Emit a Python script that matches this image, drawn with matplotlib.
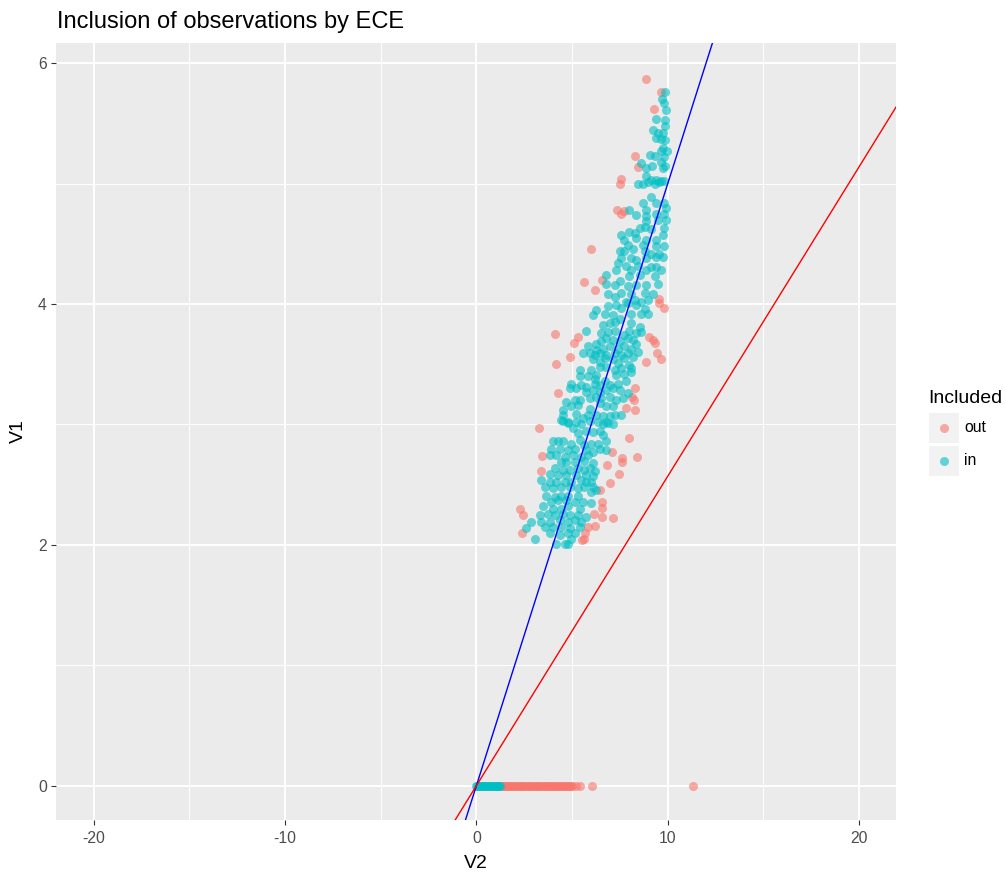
import numpy as np
import matplotlib.pyplot as plt
from matplotlib.patches import Rectangle
from matplotlib.lines import Line2D

plt.rcParams['font.family'] = ['Liberation Sans', 'DejaVu Sans']
plt.rcParams['axes.unicode_minus'] = False

# observations left out of the ECE fit, (V2, V1)
out_pts = [
    (8.88, 5.87), (9.66, 5.76), (9.28, 5.62), (8.28, 5.23), (8.44, 5.14), (7.57, 5.04),
    (7.48, 5.00), (7.34, 4.78), (7.57, 4.75), (7.74, 4.77), (5.97, 4.46), (5.62, 4.18),
    (6.56, 4.20), (6.21, 4.12), (9.52, 4.04), (9.52, 4.01), (9.78, 3.97), (4.09, 3.75),
    (5.31, 3.73), (5.10, 3.68), (9.01, 3.73), (9.22, 3.70), (9.36, 3.68), (4.89, 3.56),
    (9.45, 3.59), (9.66, 3.54), (8.88, 3.52), (4.18, 3.50), (8.27, 3.30), (4.26, 3.26),
    (8.14, 3.23), (8.23, 3.20), (7.83, 3.14), (8.27, 3.12), (3.25, 2.97), (8.00, 2.89),
    (3.44, 2.74), (7.08, 2.77), (7.62, 2.72), (7.62, 2.69), (8.41, 2.73), (6.84, 2.66),
    (3.39, 2.61), (7.43, 2.59), (6.99, 2.51), (6.47, 2.46), (6.56, 2.36), (6.56, 2.31),
    (2.30, 2.30), (2.44, 2.25), (6.13, 2.26), (6.56, 2.23), (7.13, 2.22), (6.21, 2.16),
    (5.83, 2.15), (2.38, 2.10), (5.69, 2.10), (5.60, 2.05), (5.52, 2.04),
]

# observations kept in the ECE fit, (V2, V1)
in_pts = [
    (9.87, 5.76), (9.69, 5.70), (9.80, 5.67), (9.90, 5.61), (9.38, 5.54), (9.87, 5.53),
    (9.87, 5.48), (9.24, 5.45), (9.48, 5.42), (9.75, 5.42), (9.40, 5.38), (9.66, 5.37),
    (9.87, 5.36), (9.75, 5.30), (9.97, 5.27), (9.66, 5.27), (9.08, 5.24), (9.31, 5.23),
    (9.83, 5.22), (8.58, 5.17), (8.88, 5.13), (9.17, 5.15), (9.66, 5.18), (9.75, 5.13),
    (9.87, 5.15), (8.88, 5.06), (9.40, 5.03), (9.66, 5.02), (9.14, 5.03), (8.44, 5.00),
    (8.70, 5.00), (8.96, 5.01), (9.31, 5.00), (9.57, 5.01), (9.83, 5.02),
    (9.14, 4.89), (8.70, 4.84), (9.40, 4.84), (9.83, 4.84), (8.88, 4.78), (9.92, 4.80),
    (8.00, 4.78), (8.35, 4.74), (8.88, 4.73), (9.40, 4.75), (9.83, 4.75), (8.88, 4.69),
    (9.92, 4.70), (9.48, 4.70), (8.53, 4.63), (8.79, 4.64), (8.00, 4.60), (8.27, 4.59),
    (9.14, 4.62), (9.83, 4.63), (9.75, 4.57), (7.57, 4.57), (7.74, 4.53), (8.35, 4.55),
    (8.88, 4.53), (9.40, 4.53), (8.70, 4.49), (7.92, 4.49), (8.18, 4.46), (9.40, 4.48),
    (9.83, 4.48), (7.48, 4.44), (7.74, 4.44), (8.79, 4.44), (9.14, 4.42), (9.57, 4.42),
    (9.75, 4.39), (7.57, 4.38), (8.09, 4.38), (8.35, 4.37), (8.88, 4.38), (9.40, 4.39),
    (7.40, 4.34), (7.83, 4.32), (8.44, 4.32), (9.14, 4.31), (9.40, 4.31), (7.31, 4.28),
    (8.09, 4.28), (9.66, 4.28), (8.88, 4.28), (6.79, 4.24), (8.00, 4.23), (8.53, 4.24),
    (9.31, 4.23), (6.79, 4.17), (7.22, 4.16), (7.48, 4.19), (7.92, 4.15), (8.35, 4.16),
    (8.88, 4.16), (9.48, 4.17), (6.87, 4.08), (7.22, 4.06), (7.57, 4.09), (8.09, 4.08),
    (8.79, 4.09), (9.22, 4.08), (7.83, 4.02), (8.27, 4.03), (8.61, 4.02), (8.96, 4.03),
    (6.87, 3.98), (7.31, 3.99), (7.57, 3.97), (7.92, 4.01), (8.35, 3.99), (8.79, 3.96),
    (8.96, 3.92), (8.61, 3.92), (8.09, 3.92), (6.26, 3.95), (6.09, 3.91), (6.70, 3.92),
    (7.14, 3.91), (7.48, 3.88), (6.61, 3.83), (6.96, 3.84), (7.22, 3.85), (8.09, 3.84),
    (8.53, 3.81), (5.74, 3.78), (6.53, 3.76), (6.87, 3.77), (7.22, 3.78), (8.00, 3.78),
    (8.35, 3.76), (8.61, 3.77), (7.74, 3.74), (6.79, 3.72), (7.14, 3.70), (7.48, 3.69),
    (7.92, 3.72), (8.18, 3.70), (8.35, 3.67), (6.26, 3.67), (6.53, 3.69), (5.83, 3.65),
    (6.26, 3.62), (6.61, 3.63), (6.96, 3.65), (7.40, 3.63), (7.74, 3.65), (8.09, 3.63),
    (8.44, 3.60), (5.57, 3.59), (5.92, 3.59), (6.18, 3.58), (6.44, 3.59), (6.79, 3.58),
    (7.22, 3.59), (7.57, 3.58), (7.92, 3.59), (8.18, 3.56), (6.09, 3.54), (6.44, 3.52),
    (6.70, 3.55), (7.14, 3.54), (7.40, 3.51), (7.74, 3.55), (8.00, 3.49), (6.44, 3.48),
    (6.79, 3.48), (7.22, 3.45), (7.57, 3.47), (8.09, 3.47), (5.39, 3.45), (6.00, 3.45),
    (6.26, 3.41), (5.39, 3.40), (5.83, 3.40), (6.18, 3.38), (7.31, 3.41), (7.74, 3.42),
    (8.09, 3.44), (4.96, 3.34), (5.48, 3.33), (5.74, 3.31), (6.18, 3.34), (6.44, 3.33),
    (6.70, 3.36), (6.96, 3.33), (7.40, 3.34), (7.83, 3.36), (4.87, 3.30), (5.22, 3.30),
    (5.74, 3.27), (6.09, 3.29), (6.44, 3.27), (6.79, 3.29), (7.14, 3.30), (7.48, 3.29),
    (7.92, 3.26), (4.70, 3.19), (5.13, 3.20), (5.39, 3.20), (5.92, 3.22), (6.26, 3.23),
    (6.53, 3.22), (6.96, 3.23), (7.31, 3.20), (7.66, 3.22), (4.52, 3.12), (4.96, 3.15),
    (5.31, 3.16), (5.92, 3.13), (6.44, 3.18), (6.79, 3.15), (7.14, 3.15), (4.52, 3.08),
    (4.44, 3.04), (4.78, 3.02), (5.57, 3.05), (5.83, 3.08), (6.26, 3.08), (6.61, 3.07),
    (6.96, 3.07), (7.22, 3.08), (7.57, 3.08), (5.22, 3.09), (5.92, 3.03), (6.79, 3.02),
    (4.52, 3.03), (4.78, 3.01), (5.22, 3.02), (5.48, 3.00), (6.35, 3.02), (6.61, 3.00),
    (6.87, 3.01), (7.14, 3.00), (5.05, 2.97), (5.31, 2.93), (5.74, 2.95), (6.09, 2.94),
    (6.44, 2.95), (6.61, 2.91), (4.00, 2.86), (4.26, 2.86), (4.52, 2.86), (4.96, 2.84),
    (5.39, 2.87), (5.65, 2.83), (6.00, 2.84), (6.35, 2.84), (6.79, 2.86), (3.91, 2.80),
    (4.35, 2.80), (4.78, 2.79), (5.13, 2.80), (5.74, 2.79), (6.09, 2.77), (6.44, 2.80),
    (6.79, 2.79), (3.83, 2.75), (4.18, 2.75), (4.61, 2.73), (5.05, 2.75), (5.48, 2.73),
    (5.83, 2.75), (4.44, 2.69), (4.70, 2.69), (5.13, 2.69), (5.65, 2.70), (6.09, 2.68),
    (4.09, 2.64), (4.52, 2.62), (4.87, 2.62), (5.31, 2.64), (5.65, 2.62), (5.92, 2.64),
    (6.18, 2.61), (3.83, 2.59), (4.26, 2.58), (4.70, 2.58), (5.22, 2.58), (5.74, 2.58),
    (6.09, 2.57), (3.39, 2.54), (3.83, 2.52), (4.18, 2.52), (4.61, 2.52), (4.96, 2.52),
    (5.48, 2.54), (5.74, 2.52), (6.00, 2.52), (3.57, 2.48), (4.00, 2.47), (4.44, 2.48),
    (4.87, 2.48), (5.31, 2.47), (5.65, 2.48), (6.09, 2.48), (3.65, 2.41), (4.09, 2.40),
    (4.44, 2.41), (4.78, 2.41), (5.31, 2.41), (6.00, 2.44), (6.26, 2.46), (3.91, 2.36),
    (4.26, 2.37), (4.70, 2.37), (5.13, 2.36), (5.57, 2.36), (3.48, 2.32), (4.00, 2.30),
    (4.44, 2.30), (4.78, 2.32), (5.39, 2.30), (6.00, 2.35), (3.31, 2.25), (3.74, 2.26),
    (4.09, 2.25), (4.52, 2.26), (4.87, 2.25), (5.31, 2.25), (5.74, 2.23), (2.87, 2.19),
    (3.39, 2.19), (3.83, 2.19), (4.35, 2.21), (4.78, 2.19), (5.13, 2.21), (5.48, 2.19),
    (2.61, 2.14), (3.57, 2.15), (4.00, 2.15), (4.44, 2.15), (4.87, 2.14), (5.39, 2.15),
    (3.83, 2.10), (4.35, 2.08), (4.78, 2.10), (5.13, 2.10), (3.04, 2.05), (4.18, 2.01),
    (4.61, 2.01), (4.96, 2.05), (4.78, 2.01),
]

# rows where V1 is zero: V2 values
zero_in_v2 = [0.00, 0.04, 0.09, 0.15, 0.21, 0.26, 0.33, 0.38, 0.45, 0.51, 0.58, 0.63,
              0.70, 0.77, 0.82, 0.89, 0.95, 1.02, 1.07, 1.14, 1.19, 1.24]
zero_out_v2 = [1.27, 1.33, 1.41, 1.48, 1.55, 1.63, 1.70, 1.77, 1.86, 1.93, 2.01, 2.08,
               2.16, 2.24, 2.31, 2.39, 2.46, 2.55, 2.62, 2.70, 2.78, 2.85, 2.93, 3.01,
               3.09, 3.17, 3.24, 3.32, 3.40, 3.47, 3.56, 3.63, 3.71, 3.79, 3.86, 3.94,
               4.02, 4.10, 4.17, 4.25, 4.33, 4.41, 4.49, 4.56, 4.64, 4.72, 4.80, 4.88,
               4.95, 5.02, 5.22, 5.39, 6.06, 11.30]

# reference lines through the origin
blue_slope = 0.5
red_slope = 0.257

col_out = '#F8766D'
col_in = '#00BFC4'
W, H = 1006, 877

fig = plt.figure(figsize=(W / 100, H / 100), dpi=100)
ax = fig.add_axes([56 / W, 1 - 820 / H, 840 / W, 776.7 / H])
ax.set_facecolor('#EBEBEB')
for s in ax.spines.values():
    s.set_visible(False)

xlo, xhi = -21.97, 21.93
ylo, yhi = -0.285, 6.166
ax.set_xlim(xlo, xhi)
ax.set_ylim(ylo, yhi)
ax.set_xticks([-20, -10, 0, 10, 20])
ax.set_yticks([0, 2, 4, 6])
ax.set_xticks([-15, -5, 5, 15], minor=True)
ax.set_yticks([1, 3, 5], minor=True)
ax.grid(True, which='major', color='white', lw=1.4)
ax.grid(True, which='minor', color='white', lw=0.7)
ax.set_axisbelow(True)
ax.tick_params(which='major', length=3.6, width=0.8, color='#333333',
               labelsize=11.3, labelcolor='#4D4D4D')
ax.tick_params(axis='x', pad=4.3)
ax.tick_params(axis='y', pad=3)
ax.tick_params(which='minor', length=0)

ms = 42
op = np.array(out_pts)
ip = np.array(in_pts)
ax.scatter(zero_out_v2, np.zeros(len(zero_out_v2)), s=ms, color=col_out,
           alpha=0.6, lw=0, zorder=3)
ax.scatter(op[:, 0], op[:, 1], s=ms, color=col_out, alpha=0.6, lw=0, zorder=3)
ax.scatter(zero_in_v2, np.zeros(len(zero_in_v2)), s=ms, color=col_in,
           alpha=0.6, lw=0, zorder=3)
ax.scatter(ip[:, 0], ip[:, 1], s=ms, color=col_in, alpha=0.6, lw=0, zorder=3)

xs = np.array([xlo, xhi])
ax.plot(xs, blue_slope * xs, color='blue', lw=1.0, zorder=4)
ax.plot(xs, red_slope * xs, color='red', lw=1.0, zorder=4)

fig.text(57 / W, 1 - 28 / H, 'Inclusion of observations by ECE', fontsize=17,
         va='baseline', ha='left')
fig.text(476 / W, 1 - 863 / H, 'V2', fontsize=14, ha='center', va='center')
fig.text(18 / W, 1 - 431 / H, 'V1', fontsize=14, ha='center', va='center',
         rotation=90)

# legend
fig.text(928 / W, 1 - 398 / H, 'Included', fontsize=14, ha='left', va='center')
for i, (lab, c) in enumerate([('out', col_out), ('in', col_in)]):
    top = 413 + i * 32.5
    fig.patches.append(Rectangle((929 / W, 1 - (top + 30) / H), 30 / W, 30 / H,
                                 transform=fig.transFigure, facecolor='#F2F2F2',
                                 edgecolor='none'))
    fig.lines.append(Line2D([944 / W], [1 - (top + 15) / H], transform=fig.transFigure,
                            marker='o', ms=6.5, color=c, alpha=0.6, mew=0, ls=''))
    fig.text(964 / W, 1 - (top + 15) / H, lab, fontsize=11.3, ha='left', va='center')

fig.savefig('out.png', dpi=100)
